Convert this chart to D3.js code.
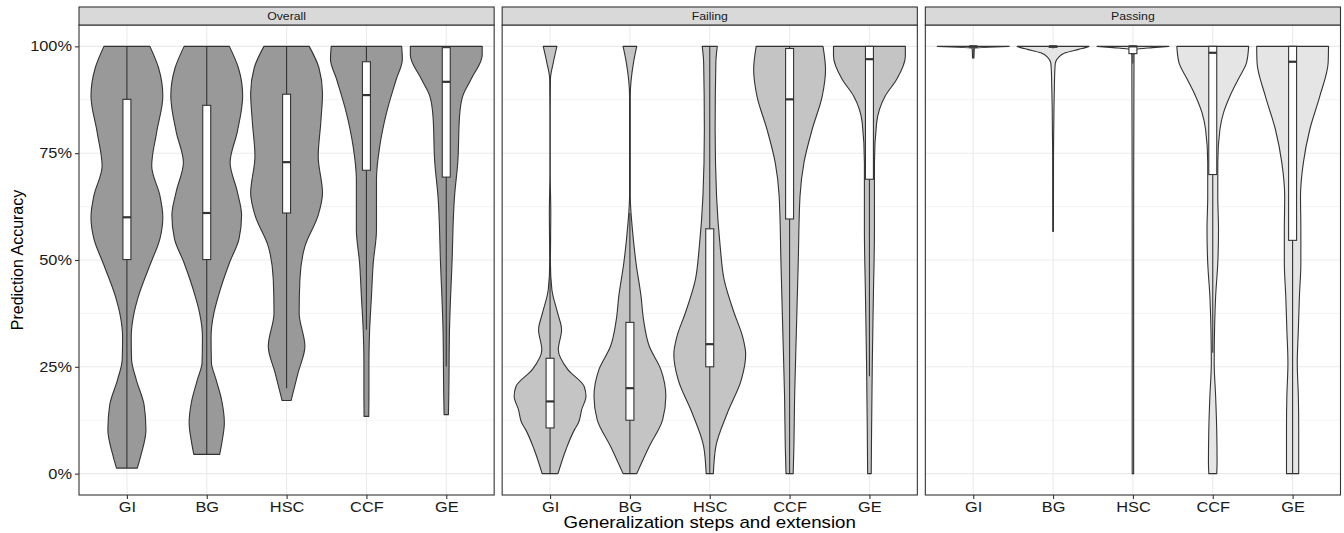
<!DOCTYPE html>
<html>
<head>
<meta charset="utf-8">
<script src="https://cdn.jsdelivr.net/npm/d3@7"></script>
<style>
  body { margin: 0; background: #fff; }
  text { font-family: "Liberation Sans", Arial, Helvetica, sans-serif; }
</style>
</head>
<body>
<div id="chart"></div>
<script>
// size of the whole picture
var chart_width  = 1344;
var chart_height = 533;

// categories, facets, ticks
var categories = ["GI", "BG", "HSC", "CCF", "GE"];
var panels     = ["Overall", "Failing", "Passing"];
var y_ticks    = [0, 0.25, 0.5, 0.75, 1];
var y_minor    = [0.125, 0.375, 0.625, 0.875];

// violin outlines: [accuracy, relative half width]
var overall_violins = [
  [[1,0.64],[0.95,0.88],[0.884,1.0],[0.80,0.83],[0.72,0.69],[0.65,0.92],[0.60,1.0],[0.55,0.92],[0.49,0.65],[0.415,0.32],[0.376,0.2],[0.32,0.12],[0.267,0.13],[0.22,0.26],[0.16,0.48],[0.103,0.53],[0.04,0.38],[0.013,0.29]],
  [[1,0.63],[0.95,0.88],[0.884,1.0],[0.80,0.85],[0.728,0.65],[0.66,0.85],[0.605,0.97],[0.55,0.9],[0.493,0.63],[0.415,0.32],[0.376,0.2],[0.32,0.12],[0.26,0.13],[0.22,0.26],[0.17,0.42],[0.119,0.49],[0.072,0.42],[0.045,0.36]],
  [[1,0.63],[0.95,0.9],[0.89,1.0],[0.82,0.95],[0.743,0.88],[0.657,1.0],[0.605,0.88],[0.532,0.51],[0.454,0.37],[0.376,0.35],[0.298,0.51],[0.236,0.32],[0.171,0.125]],
  [[1,0.98],[0.97,1.0],[0.923,0.83],[0.845,0.56],[0.766,0.37],[0.689,0.28],[0.571,0.28],[0.493,0.19],[0.415,0.14],[0.337,0.09],[0.259,0.07],[0.181,0.07],[0.134,0.065]],
  [[1,1.0],[0.98,1.0],[0.923,0.69],[0.884,0.46],[0.837,0.37],[0.728,0.32],[0.649,0.23],[0.493,0.16],[0.337,0.09],[0.181,0.07],[0.138,0.06]]
];
var failing_violins = [
  [[1,0.19],[0.962,0.09],[0.923,0.01],[0.85,0.005],[0.7,0.005],[0.61,0.02],[0.493,0.01],[0.431,0.05],[0.376,0.21],[0.337,0.32],[0.29,0.23],[0.244,0.49],[0.204,0.95],[0.181,1.0],[0.15,0.88],[0.119,0.79],[0.103,0.68],[0.056,0.44],[0,0.22]],
  [[1,0.19],[0.962,0.1],[0.884,0.01],[0.649,0.01],[0.571,0.07],[0.493,0.17],[0.415,0.31],[0.36,0.38],[0.298,0.54],[0.244,0.86],[0.181,1.0],[0.126,0.91],[0.064,0.54],[0,0.19]],
  [[1,0.21],[0.962,0.17],[0.806,0.15],[0.649,0.19],[0.532,0.29],[0.454,0.4],[0.376,0.68],[0.322,0.91],[0.279,1.0],[0.22,0.88],[0.142,0.49],[0.064,0.17],[0,0.1]],
  [[1,0.93],[0.946,1.0],[0.884,0.91],[0.806,0.63],[0.728,0.4],[0.649,0.29],[0.493,0.24],[0.337,0.19],[0.181,0.14],[0.064,0.12],[0,0.1]],
  [[1,1.0],[0.977,1.0],[0.923,0.76],[0.884,0.44],[0.821,0.2],[0.728,0.14],[0.571,0.14],[0.415,0.11],[0.259,0.08],[0.103,0.06],[0,0.05]]
];
var passing_violins = [
  [[1,1.0],[0.998,0.4],[0.995,0.03],[0.973,0.02]],
  [[1,1.0],[0.997,0.9],[0.993,0.71],[0.985,0.34],[0.973,0.14],[0.962,0.065],[0.946,0.05],[0.9,0.035],[0.86,0.025],[0.75,0.012],[0.567,0.01]],
  [[1,1.0],[0.997,0.55],[0.993,0.1],[0.98,0.03],[0.5,0.02],[0,0.02]],
  [[1,1.0],[0.962,0.94],[0.923,0.71],[0.884,0.48],[0.845,0.3],[0.806,0.2],[0.728,0.14],[0.649,0.14],[0.571,0.16],[0.493,0.14],[0.415,0.08],[0.337,0.05],[0.259,0.04],[0.181,0.08],[0.103,0.11],[0.025,0.12],[0,0.11]],
  [[1,1.0],[0.962,0.99],[0.884,0.76],[0.806,0.48],[0.728,0.3],[0.649,0.22],[0.571,0.23],[0.493,0.23],[0.415,0.19],[0.337,0.16],[0.259,0.13],[0.181,0.16],[0.103,0.17],[0,0.17]]
];

// box stats: [lower whisker, q1, median, q3, upper whisker]
var overall_boxes = [
  [0.013,0.501,0.600,0.876,1.0],
  [0.045,0.501,0.610,0.862,1.0],
  [0.20,0.610,0.729,0.888,1.0],
  [0.337,0.710,0.886,0.964,1.0],
  [0.251,0.694,0.917,0.997,1.0]
];
var failing_boxes = [
  [0,0.107,0.169,0.270,0.50],
  [0,0.125,0.20,0.354,0.61],
  [0,0.250,0.303,0.573,1.0],
  [0,0.596,0.876,0.995,1.0],
  [0.228,0.689,0.970,1.0,1.0]
];
var passing_boxes = [
  [0.973,0.998,1.0,1.0,1.0],
  [0.995,0.998,1.0,1.0,1.0],
  [0.96,0.983,1.0,1.0,1.0],
  [0.283,0.700,0.985,1.0,1.0],
  [0,0.546,0.964,1.0,1.0]
];

var panel_violins = [overall_violins, failing_violins, passing_violins];
var panel_boxes   = [overall_boxes, failing_boxes, passing_boxes];
var panel_fills   = ["#999999", "#c4c4c4", "#e5e5e5"];

// layout
var plot_left  = 79,
    plot_right = 1340.5,
    panel_gap  = 8,
    strip_top  = 7,
    strip_h    = 18,
    panel_top  = strip_top + strip_h,
    panel_bot  = 495;
var panel_w = (plot_right - plot_left - panel_gap * 2) / 3;
var ink = "#333333";
// the reference type looks a bit wide, so horizontal text is stretched
var stretch = "scale(1.17,1)";

var svg = d3.select("#chart")
  .append("svg")
  .attr("width", chart_width)
  .attr("height", chart_height);

var y = d3.scaleLinear()
  .domain([-0.05, 1.05])
  .range([panel_bot, panel_top]);

panels.forEach(function(name, pi){
  var left = plot_left + pi * (panel_w + panel_gap);
  var x = d3.scalePoint()
    .domain(categories)
    .range([left, left + panel_w])
    .padding(0.6);
  var unit = x.step();
  var max_hw = unit * 0.45;
  var box_hw = unit * 0.05;

  var g = svg.append("g");

  // grid
  g.selectAll(".minor")
    .data(y_minor)
    .enter()
    .append("line")
    .attr("x1", left).attr("x2", left + panel_w)
    .attr("y1", function(d){ return y(d); })
    .attr("y2", function(d){ return y(d); })
    .attr("stroke", "#ebebeb")
    .attr("stroke-width", 0.6);
  g.selectAll(".major")
    .data(y_ticks)
    .enter()
    .append("line")
    .attr("x1", left).attr("x2", left + panel_w)
    .attr("y1", function(d){ return y(d); })
    .attr("y2", function(d){ return y(d); })
    .attr("stroke", "#ebebeb")
    .attr("stroke-width", 1.1);
  g.selectAll(".vgrid")
    .data(categories)
    .enter()
    .append("line")
    .attr("x1", function(d){ return x(d); })
    .attr("x2", function(d){ return x(d); })
    .attr("y1", panel_top).attr("y2", panel_bot)
    .attr("stroke", "#ebebeb")
    .attr("stroke-width", 1.1);

  // violins
  categories.forEach(function(cat, ci){
    var cx = x(cat);
    var area = d3.area()
      .y(function(d){ return y(d[0]); })
      .x0(function(d){ return cx - d[1] * max_hw; })
      .x1(function(d){ return cx + d[1] * max_hw; })
      .curve(d3.curveMonotoneY);
    g.append("path")
      .attr("d", area(panel_violins[pi][ci]))
      .attr("fill", panel_fills[pi])
      .attr("stroke", ink)
      .attr("stroke-width", 1.1)
      .attr("stroke-linejoin", "round");
  });

  // boxplots
  categories.forEach(function(cat, ci){
    var cx = x(cat);
    var b = panel_boxes[pi][ci];
    g.append("line")
      .attr("x1", cx).attr("x2", cx)
      .attr("y1", y(b[0])).attr("y2", y(b[1]))
      .attr("stroke", ink).attr("stroke-width", 1.1);
    g.append("line")
      .attr("x1", cx).attr("x2", cx)
      .attr("y1", y(b[3])).attr("y2", y(b[4]))
      .attr("stroke", ink).attr("stroke-width", 1.1);
    g.append("rect")
      .attr("x", cx - box_hw)
      .attr("y", y(b[3]))
      .attr("width", box_hw * 2)
      .attr("height", Math.max(0, y(b[1]) - y(b[3])))
      .attr("fill", "#ffffff")
      .attr("stroke", ink)
      .attr("stroke-width", 1.1);
    g.append("line")
      .attr("x1", cx - box_hw).attr("x2", cx + box_hw)
      .attr("y1", y(b[2])).attr("y2", y(b[2]))
      .attr("stroke", ink).attr("stroke-width", 2.2);
  });

  // panel border
  g.append("rect")
    .attr("x", left).attr("y", panel_top)
    .attr("width", panel_w).attr("height", panel_bot - panel_top)
    .attr("fill", "none")
    .attr("stroke", ink)
    .attr("stroke-width", 1.1);

  // strip
  g.append("rect")
    .attr("x", left).attr("y", strip_top)
    .attr("width", panel_w).attr("height", strip_h)
    .attr("fill", "#d9d9d9")
    .attr("stroke", ink)
    .attr("stroke-width", 1.1);
  g.append("g")
    .attr("transform", "translate(" + (left + panel_w / 2) + "," + (strip_top + strip_h / 2) + ")")
    .append("text")
    .attr("transform", stretch)
    .attr("dy", "0.35em")
    .attr("text-anchor", "middle")
    .attr("font-size", 10.5)
    .attr("fill", "#1a1a1a")
    .text(name);

  // x axis
  var xa = svg.append("g")
    .attr("transform", "translate(0," + panel_bot + ")")
    .call(d3.axisBottom(x).tickSize(4).tickPadding(3));
  xa.select(".domain").remove();
  xa.selectAll(".tick line").attr("stroke", ink).attr("stroke-width", 1.1);
  xa.selectAll(".tick text")
    .attr("transform", stretch)
    .attr("font-size", 14)
    .attr("font-family", "Liberation Sans, Arial, sans-serif")
    .attr("fill", "#1a1a1a");

  // y axis on the first panel only
  if (pi === 0) {
    var ya = svg.append("g")
      .attr("transform", "translate(" + left + ",0)")
      .call(d3.axisLeft(y).tickValues(y_ticks).tickFormat(d3.format(".0%")).tickSize(4).tickPadding(3));
    ya.select(".domain").remove();
    ya.selectAll(".tick line").attr("stroke", ink).attr("stroke-width", 1.1);
    ya.selectAll(".tick text")
      .attr("transform", stretch)
      .attr("x", -6)
      .attr("font-size", 14)
      .attr("font-family", "Liberation Sans, Arial, sans-serif")
      .attr("fill", "#1a1a1a");
  }
});

// axis titles
svg.append("g")
  .attr("transform", "translate(" + ((plot_left + plot_right) / 2) + ",528)")
  .append("text")
  .attr("transform", stretch)
  .attr("text-anchor", "middle")
  .attr("font-size", 16)
  .attr("fill", "#000")
  .text("Generalization steps and extension");

svg.append("text")
  .attr("transform", "translate(23," + ((panel_top + panel_bot) / 2) + ") rotate(-90)")
  .attr("text-anchor", "middle")
  .attr("font-size", 16)
  .attr("fill", "#000")
  .text("Prediction Accuracy");
</script>
</body>
</html>
